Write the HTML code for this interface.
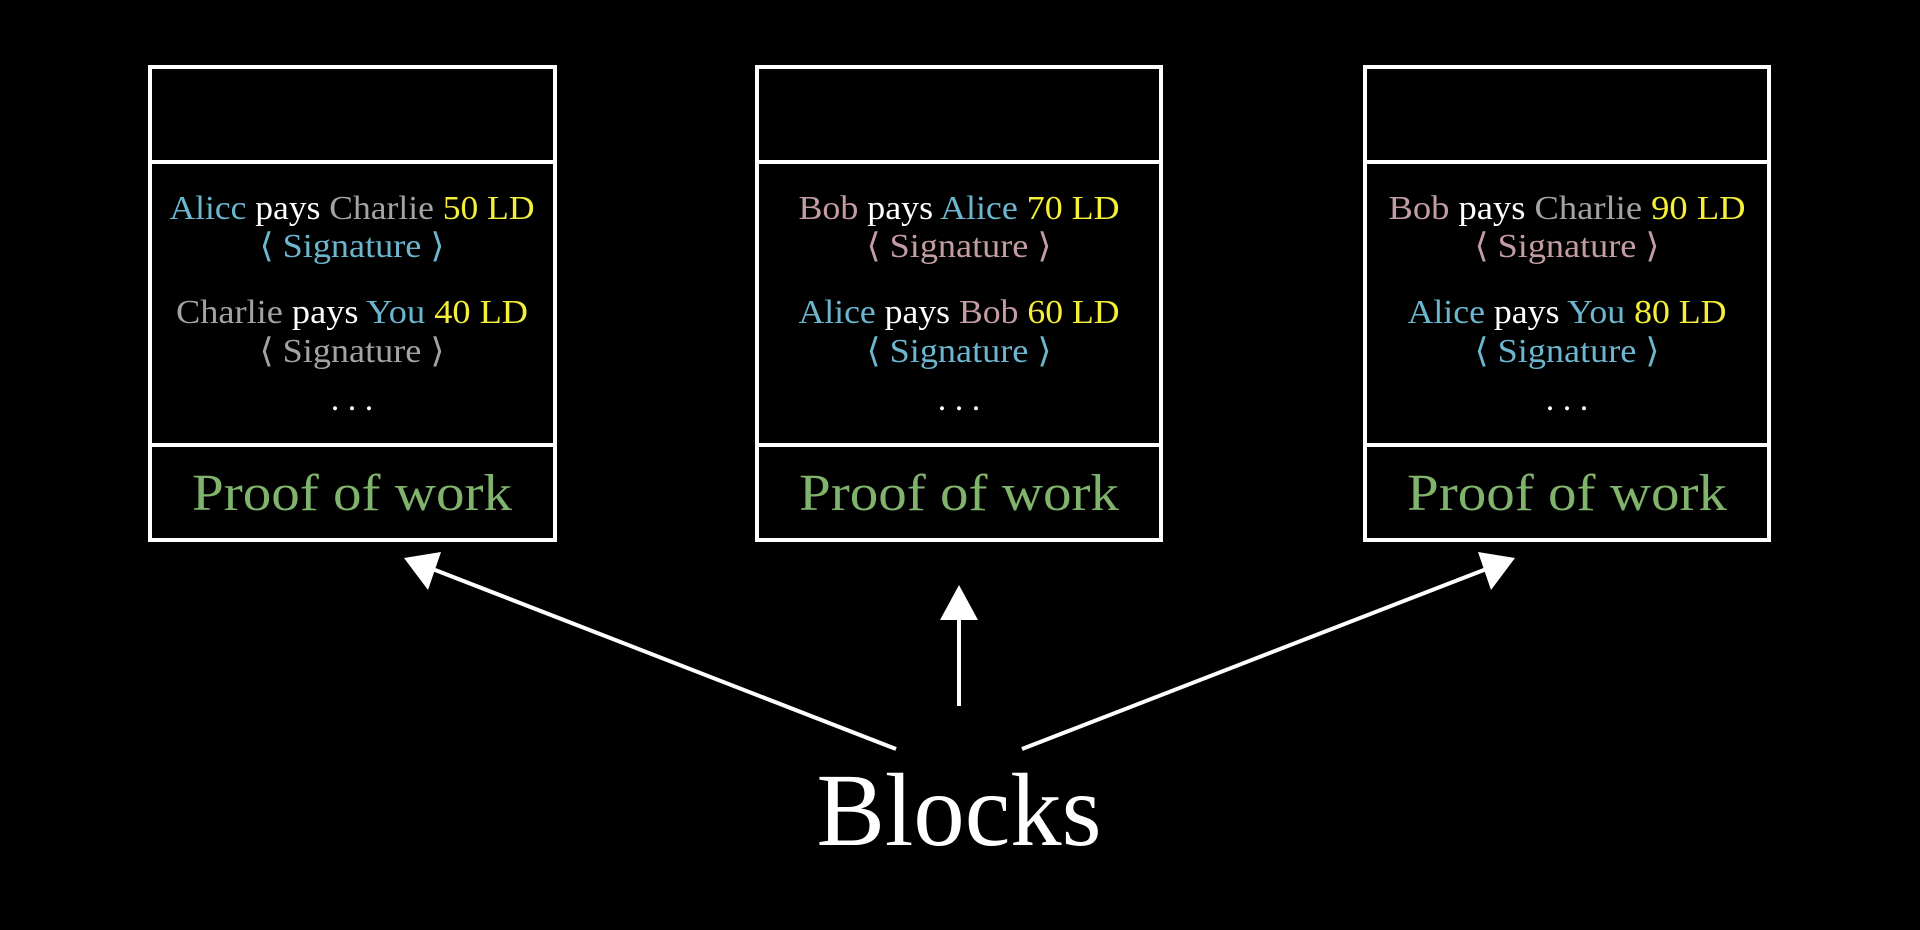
<!DOCTYPE html>
<html><head><meta charset="utf-8"><style>
html,body{margin:0;padding:0;background:#000;width:1920px;height:930px;overflow:hidden}
svg{display:block}
text{font-family:"Liberation Serif",serif}
</style></head><body>
<svg width="1920" height="930" viewBox="0 0 1920 930" xmlns="http://www.w3.org/2000/svg">
<rect width="1920" height="930" fill="#000"/>
<g fill="none" stroke="#fff" stroke-width="4">
<rect x="150" y="67" width="405" height="473"/><line x1="150" y1="162" x2="555" y2="162"/><line x1="150" y1="445" x2="555" y2="445"/>
<rect x="757" y="67" width="404" height="473"/><line x1="757" y1="162" x2="1161" y2="162"/><line x1="757" y1="445" x2="1161" y2="445"/>
<rect x="1365" y="67" width="404" height="473"/><line x1="1365" y1="162" x2="1769" y2="162"/><line x1="1365" y1="445" x2="1769" y2="445"/>
</g>
<g font-size="34" text-anchor="middle" lengthAdjust="spacingAndGlyphs">
<!-- box1 -->
<text x="352" y="219" textLength="365" lengthAdjust="spacingAndGlyphs"><tspan fill="#6cb6cf">Alicc</tspan><tspan fill="#fff"> pays </tspan><tspan fill="#a3a3a3">Charlie </tspan><tspan fill="#f5ef3a">50 LD</tspan></text>
<text x="352" y="257" textLength="185" lengthAdjust="spacingAndGlyphs" fill="#6cb6cf">⟨ Signature ⟩</text>
<text x="352" y="323" textLength="352" lengthAdjust="spacingAndGlyphs"><tspan fill="#a3a3a3">Charlie</tspan><tspan fill="#fff"> pays </tspan><tspan fill="#6cb6cf">You </tspan><tspan fill="#f5ef3a">40 LD</tspan></text>
<text x="352" y="362" textLength="185" lengthAdjust="spacingAndGlyphs" fill="#a3a3a3">⟨ Signature ⟩</text>
<text x="352" y="410" fill="#fff">. . .</text>
<!-- box2 -->
<text x="959" y="219" textLength="321" lengthAdjust="spacingAndGlyphs"><tspan fill="#c39da3">Bob</tspan><tspan fill="#fff"> pays </tspan><tspan fill="#6cb6cf">Alice </tspan><tspan fill="#f5ef3a">70 LD</tspan></text>
<text x="959" y="257" textLength="185" lengthAdjust="spacingAndGlyphs" fill="#c39da3">⟨ Signature ⟩</text>
<text x="959" y="323" textLength="321" lengthAdjust="spacingAndGlyphs"><tspan fill="#6cb6cf">Alice</tspan><tspan fill="#fff"> pays </tspan><tspan fill="#c39da3">Bob </tspan><tspan fill="#f5ef3a">60 LD</tspan></text>
<text x="959" y="362" textLength="185" lengthAdjust="spacingAndGlyphs" fill="#6cb6cf">⟨ Signature ⟩</text>
<text x="959" y="410" fill="#fff">. . .</text>
<!-- box3 -->
<text x="1567" y="219" textLength="357" lengthAdjust="spacingAndGlyphs"><tspan fill="#c39da3">Bob</tspan><tspan fill="#fff"> pays </tspan><tspan fill="#a3a3a3">Charlie </tspan><tspan fill="#f5ef3a">90 LD</tspan></text>
<text x="1567" y="257" textLength="185" lengthAdjust="spacingAndGlyphs" fill="#c39da3">⟨ Signature ⟩</text>
<text x="1567" y="323" textLength="319" lengthAdjust="spacingAndGlyphs"><tspan fill="#6cb6cf">Alice</tspan><tspan fill="#fff"> pays </tspan><tspan fill="#6cb6cf">You </tspan><tspan fill="#f5ef3a">80 LD</tspan></text>
<text x="1567" y="362" textLength="185" lengthAdjust="spacingAndGlyphs" fill="#6cb6cf">⟨ Signature ⟩</text>
<text x="1567" y="410" fill="#fff">. . .</text>
</g>
<g font-size="52" text-anchor="middle" fill="#80b36c">
<text x="352" y="510" textLength="320" lengthAdjust="spacingAndGlyphs">Proof of work</text>
<text x="959" y="510" textLength="320" lengthAdjust="spacingAndGlyphs">Proof of work</text>
<text x="1567" y="510" textLength="320" lengthAdjust="spacingAndGlyphs">Proof of work</text>
</g>
<g stroke="#fff" stroke-width="4" fill="#fff">
<line x1="896" y1="749" x2="430" y2="568"/>
<polygon points="404,558 441,552 428,590" stroke="none"/>
<line x1="959" y1="706" x2="959" y2="615"/>
<polygon points="959,585 978,620 940,620" stroke="none"/>
<line x1="1022" y1="749" x2="1489" y2="568"/>
<polygon points="1515,558 1491,590 1478,552" stroke="none"/>
</g>
<text x="959" y="845" font-size="104" text-anchor="middle" fill="#fff" textLength="285" lengthAdjust="spacingAndGlyphs">Blocks</text>
</svg>
</body></html>
